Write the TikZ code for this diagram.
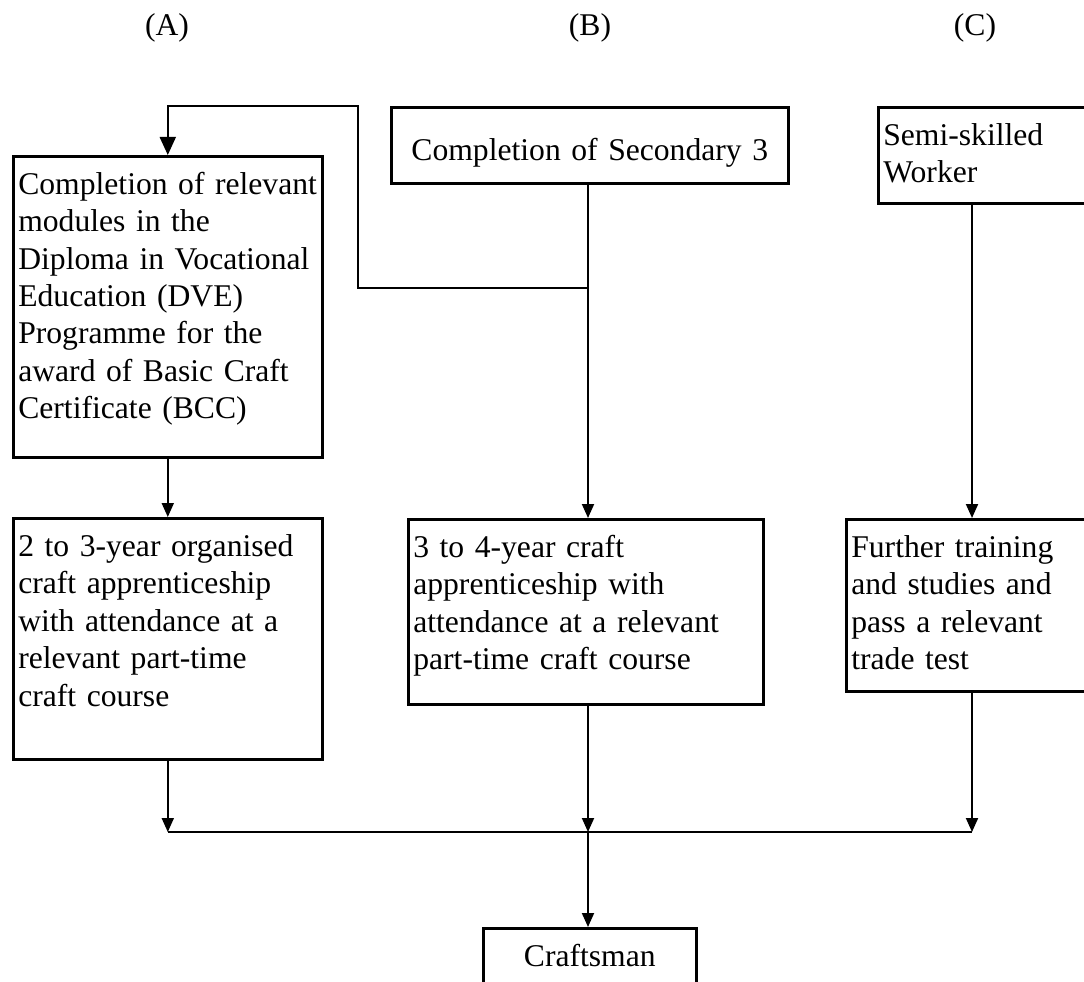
\documentclass[tikz,border=0pt]{standalone}
\usepackage{fontspec}
\setmainfont{Liberation Serif}
\usetikzlibrary{arrows.meta}
\usetikzlibrary{calc}
\tikzset{
	every path/.style={line width=1.1pt},
	tbox/.style={draw, line width=1.5pt, anchor=north west, align=left, inner xsep=0.1cm, inner ysep=0pt, text height=0.76cm, font=\fontsize{18}{21.3}\selectfont},
	lbl/.style={anchor=base, inner sep=0pt, font=\fontsize{18}{21.3}\selectfont},
	arr/.style={-{Triangle[length=0.28cm,width=0.24cm]}},
	bigarr/.style={-{Triangle[length=0.36cm,width=0.32cm]}},
}

\begin{document}
\begin{tikzpicture}[x=0.02cm,y=-0.02cm]
	\useasboundingbox (0,0) rectangle (1084,982);
	
	% column labels....................
	\node [lbl] (lblA) at (167,36) {(A)};
	\node [lbl] (lblB) at (590,36) {(B)};
	\node [lbl] (lblC) at (975,36) {(C)};
	
	% entry boxes......................
	\node [tbox, text width=5.98cm, text depth=5.26cm] (dve) at (12,155) {Completion of relevant\\ modules in the\\ Diploma in Vocational\\ Education (DVE)\\ Programme for the\\ award of Basic Craft\\ Certificate (BCC)};
	\node [tbox, align=center, text width=7.74cm, text height=1.06cm, text depth=0.46cm] (sec) at (390,106) {Completion of Secondary 3};
	\node [tbox, text width=4.02cm, text depth=1.16cm] (semi) at (877,106) {Semi-skilled\\ Worker};
	
	% training boxes...................
	\node [tbox, text width=5.98cm, text depth=4.06cm] (appA) at (12,517) {2 to 3-year organised\\ craft apprenticeship\\ with attendance at a\\ relevant part-time\\ craft course};
	\node [tbox, text width=6.90cm, text depth=2.94cm] (appB) at (407,518) {3 to 4-year craft\\ apprenticeship with\\ attendance at a relevant\\ part-time craft course};
	\node [tbox, text width=4.66cm, text depth=2.68cm] (trade) at (845,518) {Further training\\ and studies and\\ pass a relevant\\ trade test};
	
	% result...........................
	\node [tbox, align=center, text width=4.06cm, text depth=0.84cm] (craft) at (482,927) {Craftsman};
	
	% bends and joints.................
	\coordinate (split) at (588,288);
	\coordinate (riser) at (358,106);
	\coordinate (cx) at (972,0);
	\coordinate (join) at (588,832);
	
	% column B and the branch to A.....
	\draw [arr] (sec.south -| split) -- (appB.north -| split);
	\draw [bigarr] (split) -| (riser) -| (dve.north);
	
	% columns A and C..................
	\draw [arr] (dve.south) -- (appA.north);
	\draw [arr] (semi.south -| cx) -- (trade.north -| cx);
	
	% into the bottom line.............
	\draw [arr] (appA.south) -- (appA.south |- join);
	\draw [arr] (appB.south -| join) -- (join);
	\draw [arr] (trade.south -| cx) -- (join -| cx);
	\draw (appA.south |- join) -- (join -| cx);
	\draw [arr] (join) -- (craft.north -| join);
\end{tikzpicture}
\end{document}
